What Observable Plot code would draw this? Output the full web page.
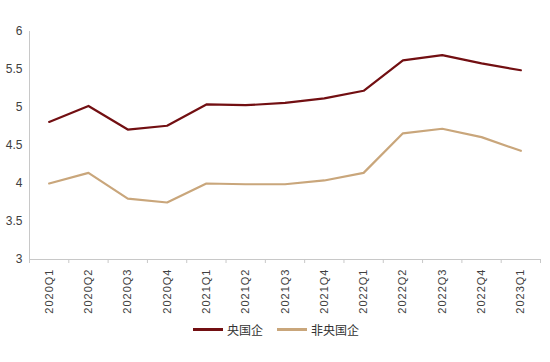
<!DOCTYPE html>
<html>
<head>
<meta charset="utf-8">
<script src="https://cdn.jsdelivr.net/npm/d3@7"></script>
<script src="https://cdn.jsdelivr.net/npm/@observablehq/plot@0.6"></script>
<style>
  body { margin: 0; background: #fff; font-family: "Liberation Sans", Arial, sans-serif; }
  #legend { display: flex; justify-content: center; align-items: center; height: 18px; font-family: "Noto Sans CJK SC", sans-serif; font-size: 12px; color: #333; margin-left: 2px; }
  .item { display: flex; align-items: center; margin: 0 7px; }
  .swatch { width: 30px; height: 3px; margin-right: 4px; }
</style>
</head>
<body>
<div id="chart"></div>
<div id="legend"></div>
<script>
const quarters = ["2020Q1","2020Q2","2020Q3","2020Q4","2021Q1","2021Q2","2021Q3","2021Q4","2022Q1","2022Q2","2022Q3","2022Q4","2023Q1"];
const central = [4.81, 5.02, 4.71, 4.76, 5.04, 5.03, 5.06, 5.12, 5.22, 5.62, 5.69, 5.58, 5.49];
const nonCentral = [4.00, 4.14, 3.80, 3.75, 4.00, 3.99, 3.99, 4.04, 4.14, 4.66, 4.72, 4.61, 4.43];
const yTicks = [3, 3.5, 4, 4.5, 5, 5.5, 6];
const seriesNames = ["央国企", "非央国企"];
const colors = ["#720f12", "#c9a67b"];

const rows = [];
quarters.forEach((q, i) => {
  rows.push({q, i: i + 0.5, v: central[i], s: seriesNames[0]});
  rows.push({q, i: i + 0.5, v: nonCentral[i], s: seriesNames[1]});
});
const labels = quarters.map((q, i) => ({q, i: i + 0.5}));
const bounds = d3.range(quarters.length + 1);

const chart = Plot.plot({
  width: 550,
  height: 320,
  marginTop: 31,
  marginBottom: 61,
  marginLeft: 29,
  marginRight: 10,
  style: {fontFamily: "'Liberation Sans', Arial, sans-serif", background: "#fff"},
  x: {type: "linear", domain: [0, quarters.length], axis: null},
  y: {domain: [3, 6], ticks: yTicks, tickSize: 0, tickPadding: 7, tickFormat: d => String(d), label: null},
  color: {domain: seriesNames, range: colors},
  marks: [
    Plot.ruleY([3], {stroke: "#c8c8c8", strokeWidth: 1}),
    Plot.ruleX([0], {stroke: "#c8c8c8", strokeWidth: 1}),
    Plot.ruleX(bounds, {y1: 3, y2: 3, insetBottom: -4, stroke: "#c8c8c8", strokeWidth: 1}),
    Plot.text(labels, {x: "i", y: 3, text: "q", rotate: -90, textAnchor: "end", dy: 9, fill: "#404040", fontSize: 11}),
    Plot.line(rows, {x: "i", y: "v", z: "s", stroke: "s", strokeWidth: 2.2})
  ]
});
chart.querySelectorAll("[aria-label='y-axis'] text, [aria-label='y-axis tick label'] text").forEach(t => { t.setAttribute("fill", "#404040"); t.style.fontSize = "12px"; });
chart.querySelectorAll("g[aria-label='text'] text").forEach(t => t.style.letterSpacing = "1px");
document.getElementById("chart").appendChild(chart);

const legend = document.getElementById("legend");
seriesNames.forEach((n, k) => {
  const it = document.createElement("div");
  it.className = "item";
  it.innerHTML = `<span class="swatch" style="background:${colors[k]}"></span><span>${n}</span>`;
  legend.appendChild(it);
});
</script>
</body>
</html>
